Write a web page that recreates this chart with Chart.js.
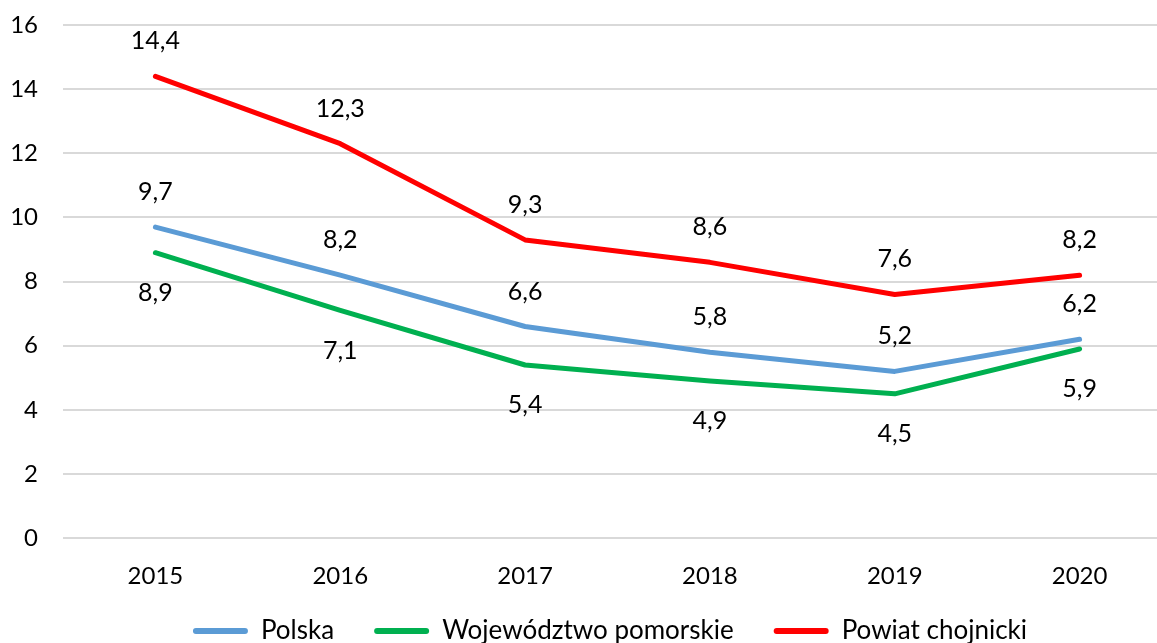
<!DOCTYPE html>
<html>
<head>
<meta charset="utf-8">
<script src="https://cdn.jsdelivr.net/npm/chart.js@4.4.0/dist/chart.umd.min.js"></script>
<style>
  html, body { margin: 0; padding: 0; background: #fff; overflow: hidden; }
  #wrap { position: absolute; left: 0; top: 0; width: 1224px; height: 683px; }
</style>
</head>
<body>
<div id="wrap"><canvas id="myChart" width="1224" height="683"></canvas></div>
<script>
// data
var years = ['2015', '2016', '2017', '2018', '2019', '2020'];
var polska = [9.7, 8.2, 6.6, 5.8, 5.2, 6.2];
var pomorskie = [8.9, 7.1, 5.4, 4.9, 4.5, 5.9];
var chojnicki = [14.4, 12.3, 9.3, 8.6, 7.6, 8.2];

// labels next to every point, comma as decimal sign
var pointLabels = {
  id: 'pointLabels',
  afterDatasetsDraw: function(chart) {
    var ctx = chart.ctx;
    ctx.save();
    ctx.font = '25px Lato';
    ctx.fillStyle = '#000';
    ctx.textAlign = 'center';
    ctx.textBaseline = 'middle';
    chart.data.datasets.forEach(function(ds, i) {
      var meta = chart.getDatasetMeta(i);
      meta.data.forEach(function(pt, j) {
        var txt = ds.data[j].toFixed(1).replace('.', ',');
        var y = ds.labelPos === 'below' ? pt.y + 40 : pt.y - 35;
        ctx.fillText(txt, pt.x, y);
      });
    });
    ctx.restore();
  }
};

// move the legend closer to the axis, a bit to the right
var legendShift = {
  id: 'legendShift',
  afterLayout: function(chart) {
    var lg = chart.legend;
    var dy = lg.top - 578;
    lg.top -= dy; lg.bottom -= dy;
    lg.left += 24; lg.right += 24;
  }
};

new Chart(document.getElementById('myChart'), {
  type: 'line',
  data: {
    labels: years,
    datasets: [{
      label: 'Polska',
      data: polska,
      borderColor: '#5B9BD5',
      backgroundColor: '#5B9BD5',
      labelPos: 'above'
    }, {
      label: 'Województwo pomorskie',
      data: pomorskie,
      borderColor: '#00B050',
      backgroundColor: '#00B050',
      labelPos: 'below'
    }, {
      label: 'Powiat chojnicki',
      data: chojnicki,
      borderColor: '#FF0000',
      backgroundColor: '#FF0000',
      labelPos: 'above'
    }]
  },
  options: {
    responsive: false,
    animation: false,
    layout: { padding: { top: 25, right: 52, left: 0, bottom: 0 } },
    elements: {
      line: { borderWidth: 5, borderCapStyle: 'round', borderJoinStyle: 'round', tension: 0 },
      point: { radius: 0 }
    },
    plugins: {
      tooltip: { enabled: false },
      legend: {
        position: 'bottom',
        labels: {
          color: '#000',
          font: { family: 'Lato', size: 26 },
          boxWidth: 55,
          boxHeight: 6,
          padding: 40,
          generateLabels: function(chart) {
            var items = Chart.defaults.plugins.legend.labels.generateLabels(chart);
            items.forEach(function(it) { it.lineWidth = 0; it.borderRadius = 3; });
            return items;
          }
        }
      }
    },
    scales: {
      x: {
        offset: true,
        grid: { display: false },
        border: { display: false },
        ticks: { color: '#000', font: { family: 'Lato', size: 24 }, padding: 16 }
      },
      y: {
        min: 0,
        max: 16,
        afterFit: function(scale) {
          scale.width = 63;
          scale.paddingTop = 0;
          scale.paddingBottom = 0;
        },
        grid: { color: '#D9D9D9', lineWidth: 2, drawTicks: false },
        border: { display: false },
        ticks: { stepSize: 2, color: '#000', font: { family: 'Lato', size: 24 }, padding: 25 }
      }
    }
  },
  plugins: [pointLabels, legendShift]
});
</script>
</body>
</html>
